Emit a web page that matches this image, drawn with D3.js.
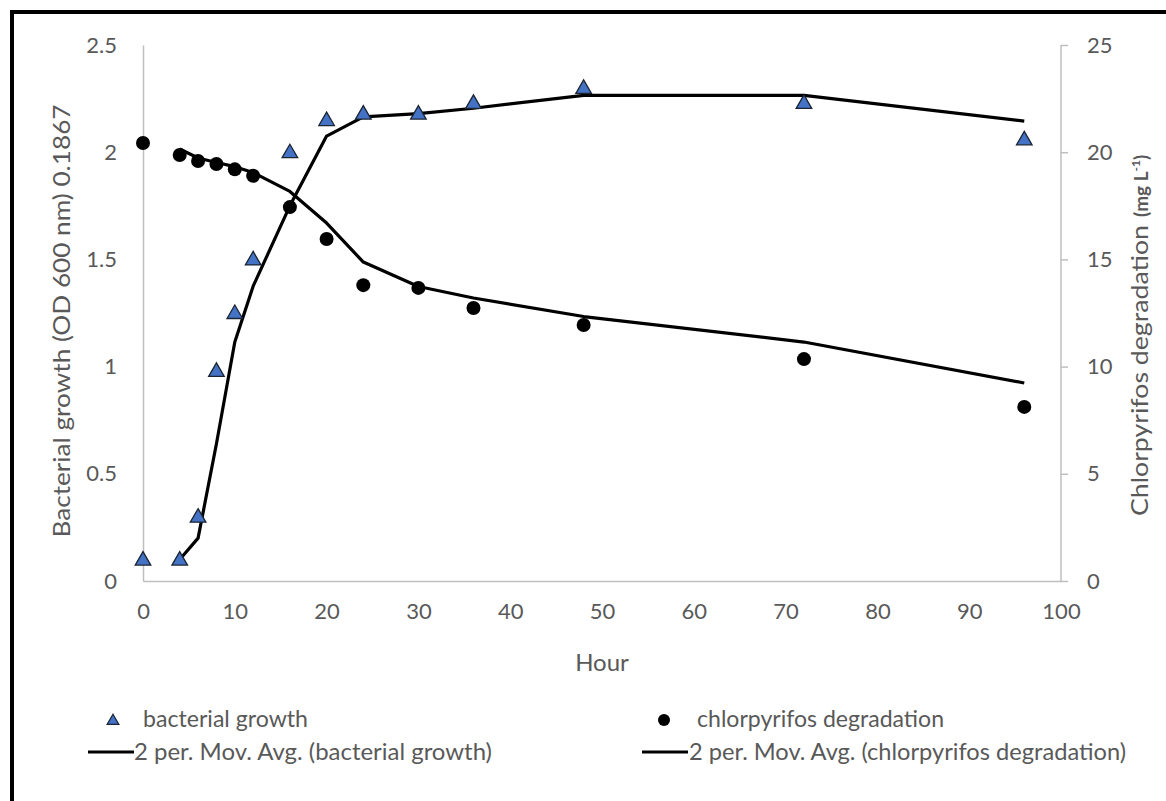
<!DOCTYPE html>
<html>
<head>
<meta charset="utf-8">
<script src="https://cdn.jsdelivr.net/npm/d3@7"></script>
<style>
  body { margin: 0; background: #fff; }
  text { font-family: Lato, "Liberation Sans", sans-serif; fill: #595959; }
</style>
</head>
<body>
<div id="chart"></div>
<script>
// values
const hours = [0, 4, 6, 8, 10, 12, 16, 20, 24, 30, 36, 48, 72, 96];
const growth = [0.10, 0.10, 0.30, 0.98, 1.25, 1.50, 2.00, 2.15, 2.18, 2.18, 2.23, 2.30, 2.23, 2.06];
const chlor = [20.43, 19.87, 19.59, 19.45, 19.2, 18.9, 17.44, 15.95, 13.8, 13.67, 12.73, 11.94, 10.35, 8.12];
const leftTicks = [0, 0.5, 1, 1.5, 2, 2.5];
const rightTicks = [0, 5, 10, 15, 20, 25];
const xTicks = [0, 10, 20, 30, 40, 50, 60, 70, 80, 90, 100];

const width = 1166;
const height = 801;

const svg = d3.select("#chart")
  .append("svg")
  .attr("width", width)
  .attr("height", height);

// outer frame (runs off the right and bottom)
svg.append("rect")
  .attr("x", 12).attr("y", 12)
  .attr("width", 1300).attr("height", 1000)
  .attr("fill", "none")
  .attr("stroke", "#000")
  .attr("stroke-width", 4);

const x = d3.scaleLinear().domain([0, 100]).range([143, 1061]);
const yL = d3.scaleLinear().domain([0, 2.5]).range([581, 45]);
const yR = d3.scaleLinear().domain([0, 25]).range([581, 45]);

// axes
const gx = svg.append("g").attr("transform", "translate(0,581)")
  .call(d3.axisBottom(x).tickValues(xTicks).tickSize(0).tickPadding(22));
const gl = svg.append("g").attr("transform", "translate(143,0)")
  .call(d3.axisLeft(yL).tickValues(leftTicks).tickSize(0).tickPadding(26).tickFormat(d3.format("")));
const gr = svg.append("g").attr("transform", "translate(1061,0)")
  .call(d3.axisRight(yR).tickValues(rightTicks).tickSize(7).tickPadding(19));

[gx, gl, gr].forEach(g => {
  g.select(".domain").attr("stroke", "#bfbfbf").attr("stroke-width", 1.5);
  g.selectAll(".tick line").attr("stroke", "#bfbfbf").attr("stroke-width", 1.5);
  g.selectAll(".tick text").attr("fill", "#595959").style("font-size", "22px")
    .style("font-family", "Lato, sans-serif");
});
gr.select(".domain").attr("d", "M0,45V581");

// axis titles
svg.append("text")
  .attr("x", 602).attr("y", 671)
  .attr("text-anchor", "middle")
  .style("font-size", "24px")
  .text("Hour");

svg.append("text")
  .attr("transform", "translate(70,321) rotate(-90)")
  .attr("text-anchor", "middle")
  .style("font-size", "23px")
  .attr("textLength", 433)
  .attr("lengthAdjust", "spacingAndGlyphs")
  .text("Bacterial growth (OD 600 nm) 0.1867");

const rt = svg.append("text")
  .attr("transform", "translate(1148,516) rotate(-90)")
  .attr("text-anchor", "start");
rt.append("tspan")
  .style("font-size", "23px")
  .attr("textLength", 291)
  .attr("lengthAdjust", "spacingAndGlyphs")
  .text("Chlorpyrifos degradation");
rt.append("tspan")
  .attr("dx", 8)
  .style("font-size", "19px")
  .style("font-weight", "bold")
  .text("(mg L");
rt.append("tspan")
  .attr("dy", -8)
  .style("font-size", "12px")
  .style("font-weight", "bold")
  .text("-1");
rt.append("tspan")
  .attr("dy", 8)
  .style("font-size", "19px")
  .style("font-weight", "bold")
  .text(")");

// 2 period moving averages
const maGrowth = hours.slice(1).map((h, i) => [h, (growth[i] + growth[i + 1]) / 2]);
const maChlor = hours.slice(1).map((h, i) => [h, (chlor[i] + chlor[i + 1]) / 2]);

svg.append("path")
  .attr("fill", "none").attr("stroke", "#000").attr("stroke-width", 3.2)
  .attr("stroke-linejoin", "round")
  .attr("d", d3.line().x(d => x(d[0])).y(d => yL(d[1]))(maGrowth));

svg.append("path")
  .attr("fill", "none").attr("stroke", "#000").attr("stroke-width", 3.2)
  .attr("stroke-linejoin", "round")
  .attr("d", d3.line().x(d => x(d[0])).y(d => yR(d[1]))(maChlor));

// markers
const tri = d3.symbol().type(d3.symbolTriangle).size(105);

svg.append("g").selectAll("circle")
  .data(hours)
  .join("circle")
  .attr("cx", d => x(d))
  .attr("cy", (d, i) => yR(chlor[i]))
  .attr("r", 7)
  .attr("fill", "#000");

svg.append("g").selectAll("path")
  .data(hours)
  .join("path")
  .attr("transform", (d, i) => `translate(${x(d)},${yL(growth[i]) + 1})`)
  .attr("d", tri)
  .attr("fill", "#4472c4")
  .attr("stroke", "#1a2433")
  .attr("stroke-width", 1.3);

// legend
const leg = svg.append("g").style("font-size", "23px");
leg.append("path")
  .attr("transform", "translate(113,721)")
  .attr("d", d3.symbol().type(d3.symbolTriangle).size(60))
  .attr("fill", "#4472c4").attr("stroke", "#1a2433").attr("stroke-width", 1.2);
leg.append("text").attr("x", 143).attr("y", 727)
  .attr("textLength", 165).attr("lengthAdjust", "spacingAndGlyphs")
  .text("bacterial growth");
leg.append("line").attr("x1", 88).attr("x2", 134).attr("y1", 752).attr("y2", 752)
  .attr("stroke", "#000").attr("stroke-width", 3);
leg.append("text").attr("x", 134).attr("y", 760)
  .attr("textLength", 358).attr("lengthAdjust", "spacingAndGlyphs")
  .text("2 per. Mov. Avg. (bacterial growth)");

leg.append("circle").attr("cx", 664).attr("cy", 720).attr("r", 6).attr("fill", "#000");
leg.append("text").attr("x", 697).attr("y", 727)
  .attr("textLength", 247).attr("lengthAdjust", "spacingAndGlyphs")
  .text("chlorpyrifos degradation");
leg.append("line").attr("x1", 642).attr("x2", 688).attr("y1", 752).attr("y2", 752)
  .attr("stroke", "#000").attr("stroke-width", 3);
leg.append("text").attr("x", 689).attr("y", 760)
  .attr("textLength", 437).attr("lengthAdjust", "spacingAndGlyphs")
  .text("2 per. Mov. Avg. (chlorpyrifos degradation)");
</script>
</body>
</html>
